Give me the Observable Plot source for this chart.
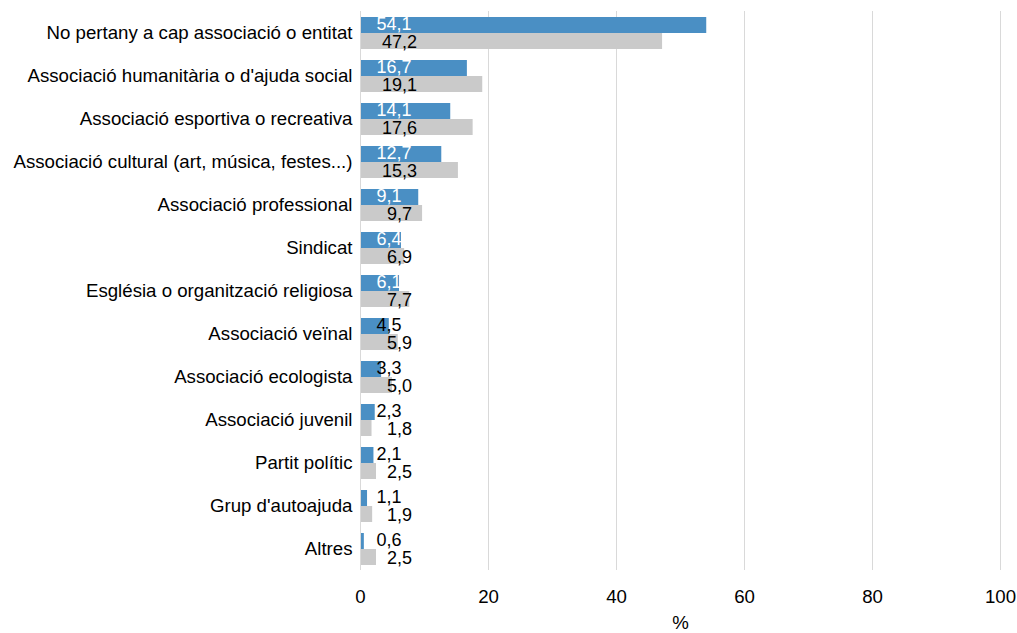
<!DOCTYPE html>
<html>
<head>
<meta charset="utf-8">
<script src="https://cdn.jsdelivr.net/npm/d3@7"></script>
<script src="https://cdn.jsdelivr.net/npm/@observablehq/plot@0.6"></script>
<style>
  html, body { margin: 0; padding: 0; background: white; }
  #chart svg { display: block; }
</style>
</head>
<body>
<div id="chart"></div>
<script>
const categories = [
  "No pertany a cap associació o entitat",
  "Associació humanitària o d'ajuda social",
  "Associació esportiva o recreativa",
  "Associació cultural (art, música, festes...)",
  "Associació professional",
  "Sindicat",
  "Església o organització religiosa",
  "Associació veïnal",
  "Associació ecologista",
  "Associació juvenil",
  "Partit polític",
  "Grup d'autoajuda",
  "Altres"
];
const seriesNames = ["Sèrie 1", "Sèrie 2"];
const seriesA = [54.1, 16.7, 14.1, 12.7, 9.1, 6.4, 6.1, 4.5, 3.3, 2.3, 2.1, 1.1, 0.6];
const seriesB = [47.2, 19.1, 17.6, 15.3, 9.7, 6.9, 7.7, 5.9, 5.0, 1.8, 2.5, 1.9, 2.5];
const xTicks = [0, 20, 40, 60, 80, 100];

const blue = "#4A8FC4";
const grey = "#CACACA";
const gridColor = "#D9D9D9";
const fs = 18.67;
const fsVal = 18;

const rowsA = categories.map((c, i) => ({cat: c, series: seriesNames[0], value: seriesA[i]}));
const rowsB = categories.map((c, i) => ({cat: c, series: seriesNames[1], value: seriesB[i]}));
const rows = rowsA.concat(rowsB);
const fmt = d => d.value.toFixed(1).replace(".", ",");

const chart = Plot.plot({
  width: 1017,
  height: 633,
  marginLeft: 360,
  marginRight: 17,
  marginTop: 7,
  marginBottom: 59,
  style: {fontFamily: "'Liberation Sans', Arial, sans-serif", fontSize: fs + "px", color: "black", background: "white"},
  x: {domain: [0, 100], ticks: xTicks},
  y: {domain: seriesNames, paddingInner: 0, paddingOuter: 0.31, axis: null},
  fy: {domain: categories, paddingInner: 0, paddingOuter: 0},
  color: {domain: seriesNames, range: [blue, grey]},
  marks: [
    Plot.ruleX(xTicks.slice(1), {stroke: gridColor, strokeWidth: 1}),
    Plot.barX(rows, {x: "value", y: "series", fy: "cat", fill: "series"}),
    Plot.ruleX([0], {stroke: gridColor, strokeWidth: 1}),
    Plot.text(rowsA.filter(d => d.value >= 6), {x: 0, y: "series", fy: "cat", text: fmt, dx: 16, dy: -1, textAnchor: "start", fill: "white", fontSize: fsVal}),
    Plot.text(rowsA.filter(d => d.value < 6), {x: 0, y: "series", fy: "cat", text: fmt, dx: 16, dy: -1, textAnchor: "start", fill: "black", fontSize: fsVal}),
    Plot.text(rowsB, {x: 0, y: "series", fy: "cat", text: fmt, dx: 39, dy: 1, textAnchor: "middle", fill: "black", fontSize: fsVal}),
    Plot.axisFy({anchor: "left", tickSize: 0, tickPadding: 8, label: null, fontSize: fs}),
    Plot.axisX({anchor: "bottom", ticks: xTicks, tickSize: 0, tickPadding: 19, line: true, stroke: gridColor, fill: "black", label: "%", labelAnchor: "center", labelArrow: "none", labelOffset: 58, fontSize: fs})
  ]
});
document.getElementById("chart").appendChild(chart);
</script>
</body>
</html>
